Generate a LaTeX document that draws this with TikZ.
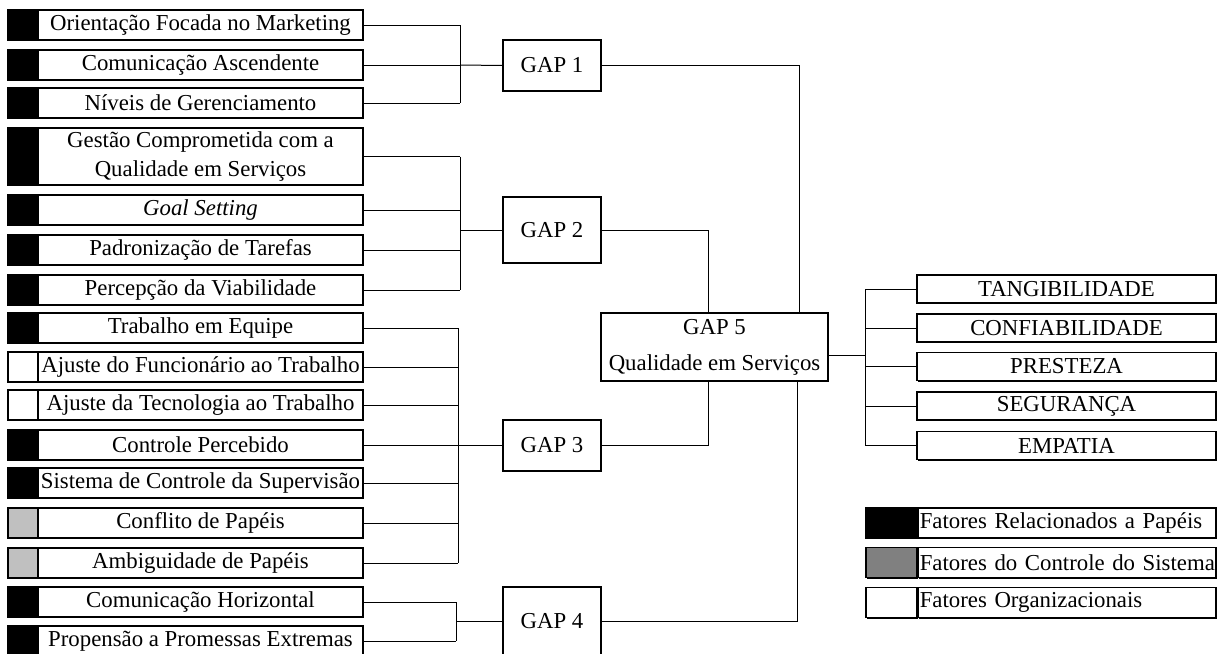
\documentclass[tikz,border=0pt]{standalone}
\usepackage{fontspec}
\setmainfont{Liberation Serif}
\usetikzlibrary{calc,shadows}
\definecolor{ctrlgray}{HTML}{C0C0C0}
\definecolor{leggray}{HTML}{808080}
\tikzset{
  box/.style={draw, line width=0.8pt, inner sep=1pt, align=center, fill=white,
    drop shadow={shadow xshift=0.5pt, shadow yshift=-0.5pt, opacity=1, fill=black}},
  swatch/.style={box, minimum width=15pt, minimum height=#1},
  factor/.style={box, minimum width=162.5pt, minimum height=#1},
  gapbox/.style={box, minimum width=49pt, minimum height=#1},
  dimbox/.style={box, minimum width=149.5pt, minimum height=14pt},
  legbox/.style={box, anchor=west, text width=147pt, align=left, minimum height=15pt},
  link/.style={line width=0.5pt}
}
\begin{document}
\begin{tikzpicture}[x=0.5pt, y=-0.5pt, font=\fontsize{11.4}{14.5}\selectfont]
\useasboundingbox (0,0) rectangle (1219,653);
\foreach \i/\y/\hgt/\col/\txt in {
  1/25/15pt/black/Orientação Focada no Marketing,
  2/65/15pt/black/Comunicação Ascendente,
  3/103/15pt/black/Níveis de Gerenciamento,
  4/156.5/28.5pt/black/{Gestão Comprometida com a\\Qualidade em Serviços},
  5/210/15pt/black/\textit{Goal Setting},
  6/250/15pt/black/Padronização de Tarefas,
  7/290/15pt/black/Percepção da Viabilidade,
  8/328/15pt/black/Trabalho em Equipe,
  9/367/15pt/white/Ajuste do Funcionário ao Trabalho,
  10/405/15pt/white/Ajuste da Tecnologia ao Trabalho,
  11/445/15pt/black/Controle Percebido,
  12/483/15pt/black/Sistema de Controle da Supervisão,
  13/523/15pt/ctrlgray/Conflito de Papéis,
  14/563/15pt/ctrlgray/Ambiguidade de Papéis,
  15/602/15pt/black/Comunicação Horizontal,
  16/641/15pt/black/Propensão a Promessas Extremas}
{
  \node[swatch=\hgt, fill=\col] (s\i) at (23,\y) {};
  \node[factor=\hgt] (f\i) at (200.5,\y) {\txt};
}
\node[gapbox=25.5pt] (gap1) at (552,65.5) {GAP 1};
\node[gapbox=33pt] (gap2) at (552,230) {GAP 2};
\node[gapbox=25.5pt] (gap3) at (552,445.5) {GAP 3};
\node[gapbox=34pt] (gap4) at (552,621) {GAP 4};
\node[box, minimum width=113.5pt, minimum height=34pt] (gap5) at (714.5,347)
  {GAP 5\\[3.5pt]Qualidade em Serviços};
\foreach \i/\y/\txt in {1/289/TANGIBILIDADE, 2/328/CONFIABILIDADE, 3/366.5/PRESTEZA,
  4/406/SEGURANÇA, 5/445.5/EMPATIA}
  \node[dimbox] (d\i) at (1066.5,\y) {\txt};
\foreach \i/\y/\col/\txt in {1/523/black/Fatores Relacionados a Papéis,
  2/562.5/leggray/Fatores do Controle do Sistema, 3/602.5/white/Fatores Organizacionais}
{
  \node[box, minimum width=25.5pt, minimum height=15pt, fill=\col] (ls\i) at (891.5,\y) {};
  \node[legbox] (lt\i) at (917,\y) {\mbox{\txt}};
}
\coordinate (bar1) at (460,65);
\coordinate (bar2) at (460,230);
\coordinate (bar3) at (458,445.5);
\coordinate (bar4) at (456,621);
\coordinate (bar5) at (865,355);
\foreach \i in {1,2,3} \draw[link] (f\i.east) -- (f\i.east -| bar1);
\draw[line width=0.9pt] (f4.east) -- (f4.east -| bar2);
\foreach \i in {5,6,7} \draw[link] (f\i.east) -- (f\i.east -| bar2);
\foreach \i in {8,...,14} \draw[link] (f\i.east) -- (f\i.east -| bar3);
\foreach \i in {15,16} \draw[link] (f\i.east) -- (f\i.east -| bar4);
\draw[link] (f1.east -| bar1) -- (f3.east -| bar1);
\draw[link] (f4.east -| bar2) -- (f7.east -| bar2);
\draw[link] (f8.east -| bar3) -- (f14.east -| bar3);
\draw[link] (f15.east -| bar4) -- (f16.east -| bar4);
\draw[link] (bar1) -- (gap1.west);
\draw[link] (bar2) -- (gap2.west);
\draw[link] (bar3) -- (gap3.west);
\draw[link] (bar4) -- (gap4.west);
\draw[link] (gap1.east) -| ($(gap5.north)+(84.5,0)$);
\draw[link] (gap2.east) -| ($(gap5.north)+(-6.5,0)$);
\draw[link] (gap3.east) -| ($(gap5.south)+(-6.5,0)$);
\draw[link] (gap4.east) -| ($(gap5.south)+(82.5,0)$);
\draw[link] (gap5.east |- bar5) -- (bar5);
\draw[link] (d1.west -| bar5) -- (d5.west -| bar5);
\foreach \i in {1,...,5} \draw[link] (d\i.west -| bar5) -- (d\i.west);
\end{tikzpicture}
\end{document}
